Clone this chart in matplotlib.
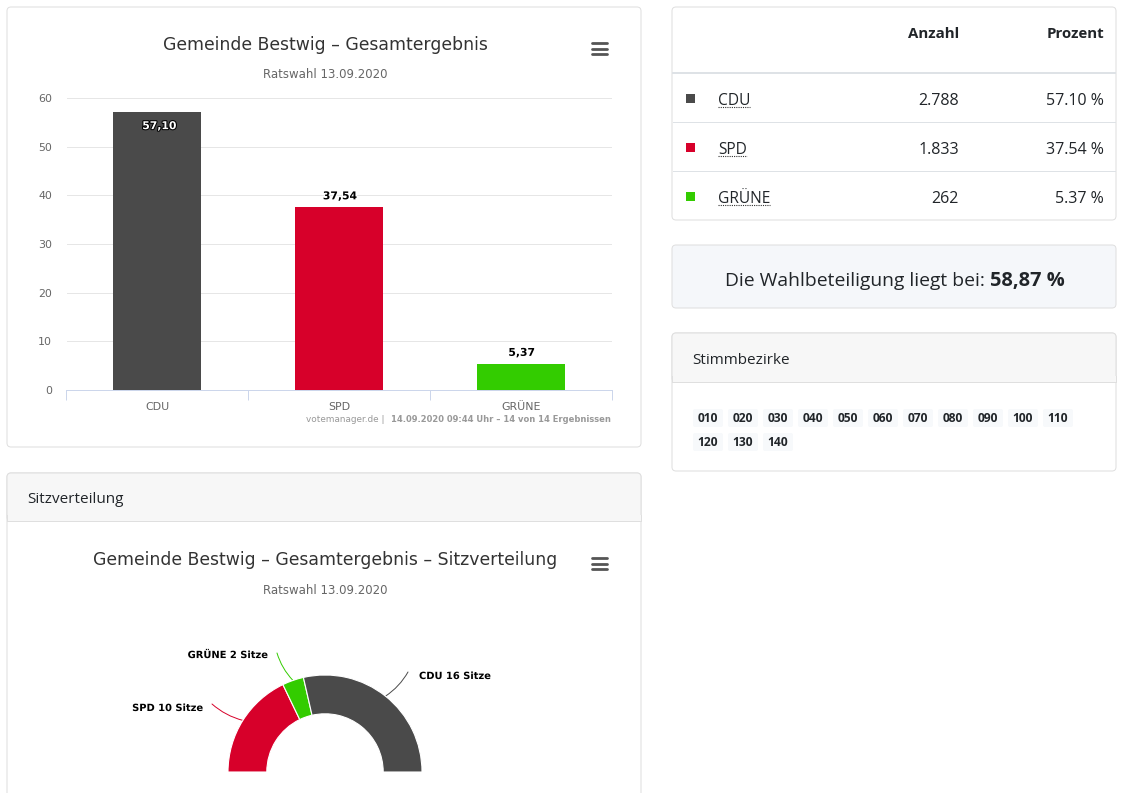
import matplotlib
matplotlib.use('Agg')
from matplotlib import pyplot as plt
from matplotlib.patches import FancyBboxPatch, Rectangle
import matplotlib.patheffects as pe
import numpy as np

W, H = 1123, 793

parties = ['CDU', 'SPD', 'GRÜNE']
percent = [57.10, 37.54, 5.37]
percent_labels = ['57,10', '37,54', '5,37']
votes = ['2.788', '1.833', '262']
percent_table = ['57.10 %', '37.54 %', '5.37 %']
colors = ['#4a4a4a', '#d7002a', '#33cc00']
y_ticks = [0, 10, 20, 30, 40, 50, 60]

seat_parties = ['SPD', 'GRÜNE', 'CDU']
seats = [10, 2, 16]
seat_colors = ['#d7002a', '#33cc00', '#4a4a4a']
seat_labels = ['SPD 10 Sitze', 'GRÜNE 2 Sitze', 'CDU 16 Sitze']

districts = ['010', '020', '030', '040', '050', '060', '070', '080', '090', '100', '110',
             '120', '130', '140']

CHART = 'DejaVu Sans'
PAGE = 'Open Sans'
BORDER = '#dfdfdf'
THIN = 0.72


def px(size):
    return size * 0.72


def axes_px(fig, x0, y0, x1, y1):
    return fig.add_axes([x0 / W, 1 - y1 / H, (x1 - x0) / W, (y1 - y0) / H])


def card(ax, x0, y0, x1, y1, face='white'):
    ax.add_patch(FancyBboxPatch((x0 + 3, y0 + 3), x1 - x0 - 6, y1 - y0 - 6,
                                boxstyle='round,pad=3,rounding_size=4',
                                fc=face, ec=BORDER, lw=THIN))


def header(ax, x0, y0, x1, y1, text):
    ax.add_patch(FancyBboxPatch((x0 + 3, y0 + 3), x1 - x0 - 6, y1 - y0 - 6,
                                boxstyle='round,pad=3,rounding_size=4',
                                fc='#f7f7f7', ec=BORDER, lw=THIN))
    ax.add_patch(Rectangle((x0 + 0.5, y1 - 6), x1 - x0 - 1, 6, fc='#f7f7f7', ec='none'))
    ax.plot([x0, x0], [y1 - 6, y1], color=BORDER, lw=THIN)
    ax.plot([x1, x1], [y1 - 6, y1], color=BORDER, lw=THIN)
    ax.plot([x0, x1], [y1, y1], color=BORDER, lw=THIN)
    ax.text(x0 + 20, (y0 + y1) / 2 + 2.5, text, fontsize=px(15.2), color='#212529',
            family=PAGE, ha='left', va='center')


def burger(ax, cx, cy):
    for dy in (-5.5, 0, 5.5):
        ax.plot([cx - 7.5, cx + 7.5], [cy + dy, cy + dy], color='#555555', lw=2,
                solid_capstyle='round')


fig = plt.figure(figsize=(W / 100, H / 100), dpi=100)
page = fig.add_axes([0, 0, 1, 1])
page.set_xlim(0, W)
page.set_ylim(H, 0)
page.axis('off')

# cards
card(page, 7, 7, 641, 447)
card(page, 7, 473, 641, 830)
header(page, 7, 473, 641, 521, 'Sitzverteilung')
card(page, 672, 7, 1116, 220)
card(page, 672, 245, 1116, 308, face='#f5f7fa')
card(page, 672, 333, 1116, 471)
header(page, 672, 333, 1116, 382, 'Stimmbezirke')

# chart titles
page.text(325, 45, 'Gemeinde Bestwig – Gesamtergebnis', fontsize=px(17.2), color='#333333',
          family=CHART, ha='center', va='center')
page.text(325, 75, 'Ratswahl 13.09.2020', fontsize=px(11.7), color='#666666',
          family=CHART, ha='center', va='center')
burger(page, 599.5, 48.5)
page.text(325, 560, 'Gemeinde Bestwig – Gesamtergebnis – Sitzverteilung', fontsize=px(17.2),
          color='#333333', family=CHART, ha='center', va='center')
page.text(325, 590, 'Ratswahl 13.09.2020', fontsize=px(11.7), color='#666666',
          family=CHART, ha='center', va='center')
burger(page, 599.5, 563.5)

# credits
page.text(611, 419, '14.09.2020 09:44 Uhr – 14 von 14 Ergebnissen', fontsize=px(8.42),
          color='#999999', family=CHART, weight='bold', ha='right', va='center')
page.text(384, 419, 'votemanager.de |', fontsize=px(8.85), color='#999999',
          family=CHART, ha='right', va='center')

# bar chart
ax = axes_px(fig, 66.5, 98, 611.5, 390)
ax.patch.set_alpha(0)
x = np.arange(len(parties))
bars = ax.bar(x, percent, width=0.484, color=colors, zorder=3)
ax.set_xlim(-0.5, 2.5)
ax.set_ylim(0, 60)
ax.set_yticks(y_ticks)
ax.set_xticks(x)
ax.set_xticklabels(parties)
ax.set_xticks(np.arange(-0.5, 3), minor=True)
ax.grid(axis='y', color='#e6e6e6', lw=THIN, zorder=0)
for s in ['top', 'right', 'left']:
    ax.spines[s].set_visible(False)
ax.spines['bottom'].set_color('#ccd6eb')
ax.spines['bottom'].set_linewidth(THIN)
ax.tick_params(axis='y', length=0, pad=10.5, labelsize=px(11), labelcolor='#666666')
ax.tick_params(axis='x', which='major', length=0, pad=8.5, labelsize=px(11), labelcolor='#666666')
ax.tick_params(axis='x', which='minor', length=7.2, color='#ccd6eb', width=THIN)
for i, (v, lab) in enumerate(zip(percent, percent_labels)):
    if v > 50:
        ax.annotate(lab, (i, v), xytext=(2, -14), textcoords='offset pixels', ha='center',
                    va='center', fontsize=px(10.8), weight='bold', color='white', zorder=5,
                    path_effects=[pe.withStroke(linewidth=1.5, foreground='black')])
    else:
        ax.annotate(lab, (i, v), xytext=(1, 11), textcoords='offset pixels', ha='center',
                    va='center', fontsize=px(10.8), weight='bold', color='black', zorder=5,
                    path_effects=[pe.withStroke(linewidth=1.5, foreground='white')])

# seat donut, half circle: remainder wedge stays hidden
ax2 = axes_px(fig, 228, 675, 422, 869)
ax2.patch.set_alpha(0)
wedges, _ = ax2.pie(seats + [sum(seats)], colors=seat_colors + ['white'], startangle=180,
                    counterclock=False, radius=1, wedgeprops={'width': 0.4, 'edgecolor': 'white', 'linewidth': 0.8})
wedges[-1].set_visible(False)
ax2.set_xlim(-1, 1)
ax2.set_ylim(-1, 1)
label_pos = [(203, 708), (268, 655), (419, 676)]
elbow = [(212, 704), (277, 653), (408, 672)]
for w, lab, col, (lx, ly), (ex, ey) in zip(wedges, seat_labels, seat_colors, label_pos, elbow):
    mid = np.deg2rad((w.theta1 + w.theta2) / 2)
    sx, sy = np.cos(mid), np.sin(mid)
    start = ax2.transData.transform((sx, sy))
    start_page = (start[0], H - start[1])
    page.annotate('', xy=start_page, xytext=(ex, ey), xycoords='data', textcoords='data',
                  arrowprops=dict(arrowstyle='-', color=col, lw=0.7, shrinkA=0, shrinkB=0,
                                  connectionstyle='arc3,rad=%s' % ('-0.12' if lab.startswith('CDU') else '0.12')))
    page.text(lx, ly, lab, fontsize=px(9.9), weight='bold', color='black', family=CHART,
              ha='left' if lab.startswith('CDU') else 'right', va='center',
              path_effects=[pe.withStroke(linewidth=1.2, foreground='white')])

# result table
page.text(959, 34, 'Anzahl', fontsize=px(15), weight='bold', color='#212529', family=PAGE,
          ha='right', va='center')
page.text(1104, 34, 'Prozent', fontsize=px(15), weight='bold', color='#212529', family=PAGE,
          ha='right', va='center')
page.plot([673, 1115], [73, 73], color='#dee2e6', lw=1.44)
row_y = [99, 148, 197]
for i, yy in enumerate(row_y):
    if i:
        page.plot([673, 1115], [yy - 26, yy - 26], color='#dee2e6', lw=THIN)
    page.add_patch(Rectangle((685.5, yy - 5), 9, 8.5, fc=colors[i], ec='none'))
    t = page.text(718, yy + 2, parties[i], fontsize=px(15.5), color='#212529', family=PAGE,
                  ha='left', va='center')
    bb = t.get_window_extent(fig.canvas.get_renderer())
    page.plot([bb.x0, bb.x1], [yy + 8, yy + 8], color='#333333', lw=0.8, ls=(0, (1, 1)))
    page.text(959, yy + 2, votes[i], fontsize=px(16), color='#212529', family=PAGE,
              ha='right', va='center')
    page.text(1104, yy + 2, percent_table[i], fontsize=px(16), color='#212529', family=PAGE,
              ha='right', va='center')

# turnout
page.text(990, 281, '58,87 %', fontsize=px(20), weight='bold', color='#212529', family=PAGE,
          ha='left', va='center')
page.text(985, 281, 'Die Wahlbeteiligung liegt bei:', fontsize=px(19.3), color='#212529',
          family=PAGE, ha='right', va='center')

# district badges
for i, d in enumerate(districts):
    cx = 708 + 35 * (i % 11)
    cy = 418 + 24 * (i // 11)
    page.add_patch(FancyBboxPatch((cx - 13, cy - 7), 26, 14, boxstyle='round,pad=2,rounding_size=2',
                                  fc='#f7f9fb', ec='none'))
    page.text(cx, cy, d, fontsize=px(12), weight='bold', color='#212529', family=PAGE,
              ha='center', va='center')

page.set_xlim(0, W)
page.set_ylim(H, 0)
fig.savefig('out.png', dpi=100)
